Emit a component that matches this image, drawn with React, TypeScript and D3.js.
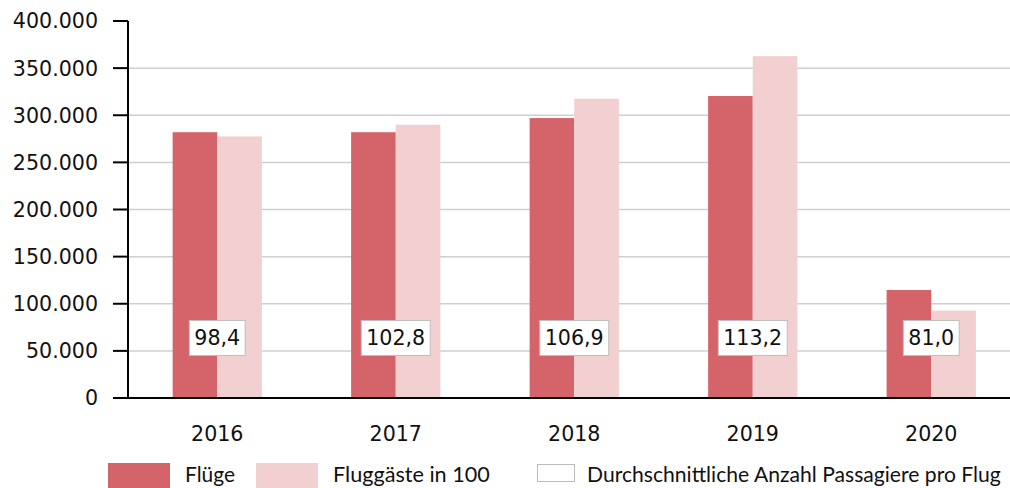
import React, { useEffect, useRef } from "react";
import * as d3 from "d3";

const years = ["2016", "2017", "2018", "2019", "2020"];
const fluege = [282000, 282000, 297000, 320400, 114600];
const fluggaeste100 = [277500, 289900, 317500, 362700, 92800];
const avgPassengers = ["98,4", "102,8", "106,9", "113,2", "81,0"];
const yTicks = [0, 50000, 100000, 150000, 200000, 250000, 300000, 350000, 400000];
const seriesNames = ["Flüge", "Fluggäste in 100", "Durchschnittliche Anzahl Passagiere pro Flug"];

const W = 1010;
const H = 488;
const FONT = "'DejaVu Sans', sans-serif";
const LEGEND_FONT = "Lato, 'DejaVu Sans', sans-serif";
const COLORS = ["#d4636a", "#f2cfd0"];

const App = () => {
  const svgRef = useRef<SVGSVGElement>(null);

  useEffect(() => {
    const svg = d3.select(svgRef.current);
    svg.selectAll("*").remove();

    const left = 128;
    const x = d3.scaleBand().domain(years).range([left, 1020.5]).paddingInner(0.5).paddingOuter(0.25);
    const xSub = d3.scaleBand().domain(["a", "b"]).range([0, x.bandwidth()]);
    const y = d3.scaleLinear().domain([0, 400000]).range([398, 21]);
    const fmt = (v: number) => d3.format(",")(v).replace(/,/g, ".");

    // grid
    svg
      .append("g")
      .selectAll("line")
      .data(yTicks.filter((t) => t > 0 && t < 400000))
      .join("line")
      .attr("x1", left)
      .attr("x2", W)
      .attr("y1", (d) => y(d))
      .attr("y2", (d) => y(d))
      .attr("stroke", "#cfcfcf")
      .attr("stroke-width", 1.5);

    // bars
    const g = svg.append("g");
    years.forEach((yr, i) => {
      g.append("rect")
        .attr("x", x(yr)! + xSub("a")!)
        .attr("y", y(fluege[i]))
        .attr("width", xSub.bandwidth())
        .attr("height", y(0) - y(fluege[i]))
        .attr("fill", COLORS[0]);
      g.append("rect")
        .attr("x", x(yr)! + xSub("b")!)
        .attr("y", y(fluggaeste100[i]))
        .attr("width", xSub.bandwidth())
        .attr("height", y(0) - y(fluggaeste100[i]))
        .attr("fill", COLORS[1]);
    });

    // y axis
    const ya = svg.append("g");
    ya.append("line").attr("x1", left).attr("x2", left).attr("y1", y(400000)).attr("y2", y(0)).attr("stroke", "#000").attr("stroke-width", 2);
    yTicks.forEach((t) => {
      ya.append("line").attr("x1", 113).attr("x2", left).attr("y1", y(t)).attr("y2", y(t)).attr("stroke", "#000").attr("stroke-width", 2);
      ya.append("text")
        .attr("x", 98)
        .attr("y", y(t))
        .attr("dy", "0.36em")
        .attr("text-anchor", "end")
        .attr("font-family", FONT)
        .attr("font-size", 20.6)
        .attr("fill", "#111")
        .text(fmt(t));
    });

    // x axis
    svg.append("line").attr("x1", left).attr("x2", W).attr("y1", y(0)).attr("y2", y(0)).attr("stroke", "#000").attr("stroke-width", 2);
    years.forEach((yr) => {
      svg
        .append("text")
        .attr("x", x(yr)! + x.bandwidth() / 2)
        .attr("y", 441)
        .attr("text-anchor", "middle")
        .attr("font-family", FONT)
        .attr("font-size", 20.6)
        .attr("fill", "#111")
        .text(yr);
    });

    // average labels
    const labelLevel = y(63700);
    years.forEach((yr, i) => {
      const lg = svg.append("g");
      const cx = x(yr)! + x.bandwidth() / 2;
      const rect = lg.append("rect").attr("fill", "#fff").attr("stroke", "#bdbdbd").attr("stroke-width", 1);
      const txt = lg
        .append("text")
        .attr("x", cx)
        .attr("y", labelLevel)
        .attr("dy", "0.36em")
        .attr("text-anchor", "middle")
        .attr("font-family", FONT)
        .attr("font-size", 20.6)
        .attr("fill", "#111")
        .text(avgPassengers[i]);
      const w = (txt.node() as SVGTextElement).getComputedTextLength() + 10;
      rect.attr("x", cx - w / 2).attr("y", labelLevel - 17.5).attr("width", w).attr("height", 35);
    });

    // legend
    const leg = svg.append("g");
    const items = [
      { x: 108, w: 62, fill: COLORS[0], stroke: "none", tx: 185, tw: 50, y0: 463, h: 30 },
      { x: 256, w: 62, fill: COLORS[1], stroke: "none", tx: 333, tw: 157, y0: 463, h: 30 },
      { x: 537.5, w: 37, fill: "#fff", stroke: "#bdbdbd", tx: 587, tw: 414, y0: 464.5, h: 17 },
    ];
    items.forEach((it, i) => {
      leg.append("rect").attr("x", it.x).attr("y", it.y0).attr("width", it.w).attr("height", it.h).attr("fill", it.fill).attr("stroke", it.stroke);
      const t = leg
        .append("text")
        .attr("x", it.tx)
        .attr("y", 482)
        .attr("font-family", LEGEND_FONT)
        .attr("font-size", 20)
        .attr("fill", "#111")
        .text(seriesNames[i]);
      const natural = (t.node() as SVGTextElement).getComputedTextLength();
      t.attr("font-size", Math.min(22, (20 * it.tw) / natural));
    });
  }, []);

  return (
    <div style={{ position: "absolute", left: 0, top: 0 }}>
      <svg ref={svgRef} width={W} height={H} style={{ display: "block", background: "#fff" }} />
    </div>
  );
};

export default App;
